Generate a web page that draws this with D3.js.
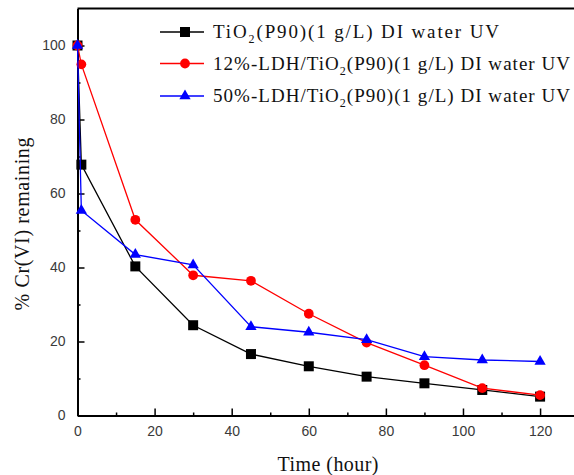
<!doctype html>
<html lang="en">
<head>
<meta charset="utf-8">
<title>Cr(VI) remaining</title>
<script src="https://d3js.org/d3.v7.min.js"></script>
<style>
  body { margin: 0; background: #fff; }
  svg { display: block; font-family: "Liberation Serif", "Times New Roman", serif; }
  .tick text { fill: #3a3a3a; font-size: 14px; }
</style>
</head>
<body>
<svg id="main" width="574" height="475"></svg>
<script>
// time points (hour)
let times = [0, 1, 15, 30, 45, 60, 75, 90, 105, 120];
let tio2 = [100, 67.8, 40.3, 24.4, 16.6, 13.3, 10.5, 8.7, 6.9, 5.1];
let ldh12 = [100, 94.9, 52.9, 37.9, 36.4, 27.5, 19.7, 13.6, 7.4, 5.5];
let ldh50 = [100, 55.4, 43.5, 40.7, 24.0, 22.5, 20.5, 15.9, 15.0, 14.6];
let xTicks = [0, 20, 40, 60, 80, 100, 120];
let yTicks = [0, 20, 40, 60, 80, 100];

let svg = d3.select('#main');
let x = d3.scaleLinear().domain([0, 128.8]).range([77.5, 574]);
let y = d3.scaleLinear().domain([0, 110]).range([415.5, 8.5]);

let series = [
  { key: 'black', vals: tio2, color: '#000', shape: d3.symbolSquare, size: 100 },
  { key: 'red', vals: ldh12, color: '#ff0000', shape: d3.symbolCircle, size: 75 },
  { key: 'blue', vals: ldh50, color: '#0000ff', shape: d3.symbolTriangle, size: 55 }
];

// axes
let minorX = d3.range(10, 121, 20);
let minorY = d3.range(10, 101, 20);

let xAxis = svg.append('g').attr('transform', 'translate(0,' + y(0) + ')')
  .call(d3.axisBottom(x).tickValues(xTicks).tickSize(-7).tickPadding(11).tickSizeOuter(0));
xAxis.select('.domain').attr('stroke-width', 2);
xAxis.selectAll('.tick line').attr('stroke-width', 1.5);
svg.append('g').attr('transform', 'translate(0,' + y(0) + ')')
  .call(d3.axisBottom(x).tickValues(minorX).tickSize(-3).tickFormat('').tickSizeOuter(0))
  .call(g => g.select('.domain').remove())
  .selectAll('.tick line').attr('stroke-width', 1.5);

let yAxis = svg.append('g').attr('transform', 'translate(' + x(0) + ',0)')
  .call(d3.axisLeft(y).tickValues(yTicks).tickSize(-7).tickPadding(12).tickSizeOuter(0));
yAxis.select('.domain').attr('stroke-width', 2);
yAxis.selectAll('.tick line').attr('stroke-width', 1.5);
svg.append('g').attr('transform', 'translate(' + x(0) + ',0)')
  .call(d3.axisLeft(y).tickValues(minorY).tickSize(-3).tickFormat('').tickSizeOuter(0))
  .call(g => g.select('.domain').remove())
  .selectAll('.tick line').attr('stroke-width', 1.5);

// top frame line
svg.append('line').attr('x1', x(0)).attr('x2', 574).attr('y1', y(110)).attr('y2', y(110))
  .attr('stroke', '#000').attr('stroke-width', 2);

// series
let line = d3.line().x((d, i) => x(times[i])).y(d => y(d));
series.forEach(s => {
  svg.append('path').datum(s.vals).attr('d', line)
    .attr('fill', 'none').attr('stroke', s.color).attr('stroke-width', 1.3);
  svg.selectAll('.m-' + s.key).data(s.vals).join('path')
    .attr('class', 'm-' + s.key)
    .attr('transform', (d, i) => 'translate(' + x(times[i]) + ',' + y(d) + ')')
    .attr('d', d3.symbol().type(s.shape).size(s.size))
    .attr('fill', s.color);
});

// legend
let legendRows = [
  { pre: 'TiO', post: '(P90)(1 g/L) DI water UV', len: 286 },
  { pre: '12%-LDH/TiO', post: '(P90)(1 g/L) DI water UV', len: 357 },
  { pre: '50%-LDH/TiO', post: '(P90)(1 g/L) DI water UV', len: 357 }
];
let legendY = [32, 63.5, 96];
series.forEach((s, i) => {
  let ly = legendY[i];
  svg.append('line').attr('x1', 160).attr('x2', 204).attr('y1', ly).attr('y2', ly)
    .attr('stroke', s.color).attr('stroke-width', 1.3);
  svg.append('path').attr('transform', 'translate(185,' + ly + ')')
    .attr('d', d3.symbol().type(s.shape).size(s.size)).attr('fill', s.color);
  let t = svg.append('text').attr('x', 213).attr('y', ly + 6)
    .attr('font-size', 19).attr('fill', '#111')
    .attr('textLength', legendRows[i].len).attr('lengthAdjust', 'spacing');
  t.append('tspan').text(legendRows[i].pre);
  t.append('tspan').attr('font-size', 12).attr('dy', 5).text('2');
  t.append('tspan').attr('dy', -5).text(legendRows[i].post);
});

// axis titles
svg.append('text').attr('x', 328).attr('y', 471).attr('text-anchor', 'middle')
  .attr('font-size', 20).attr('fill', '#111')
  .attr('textLength', 101).attr('lengthAdjust', 'spacing').text('Time (hour)');
svg.append('text').attr('transform', 'translate(29,224) rotate(-90)')
  .attr('text-anchor', 'middle').attr('font-size', 20).attr('fill', '#111')
  .attr('textLength', 173).attr('lengthAdjust', 'spacing')
  .text('% Cr(VI) remaining');
</script>
</body>
</html>
